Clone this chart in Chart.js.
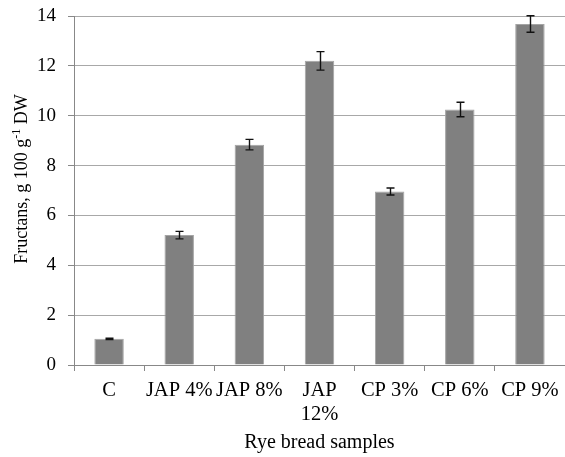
<!DOCTYPE html>
<html>
<head>
<meta charset="utf-8">
<script src="https://cdn.jsdelivr.net/npm/chart.js@4/dist/chart.umd.min.js"></script>
<style>
  html, body { margin: 0; padding: 0; background: #fff; }
  #wrap { width: 565px; height: 457px; }
</style>
</head>
<body>
<div id="wrap"><canvas id="c" width="565" height="457"></canvas></div>
<script>
// Fructan content of rye breads (mean and standard deviation)
const categories = ['C', 'JAP 4%', 'JAP 8%', ['JAP', '12%'], 'CP 3%', 'CP 6%', 'CP 9%'];
const fructans = [1.05, 5.21, 8.84, 12.2, 6.96, 10.25, 13.68];
const fructansSD = [0.03, 0.15, 0.21, 0.37, 0.14, 0.29, 0.33];
const yTicks = [0, 2, 4, 6, 8, 10, 12, 14];

const serif = "'Liberation Serif', 'Times New Roman', serif";

// Vertical error bars with caps, one per bar
const errorBars = {
  id: 'errorBars',
  afterDatasetsDraw(chart) {
    const meta = chart.getDatasetMeta(0);
    const y = chart.scales.y;
    const ctx = chart.ctx;
    ctx.save();
    ctx.strokeStyle = '#111';
    ctx.lineWidth = 1.4;
    meta.data.forEach((bar, i) => {
      const v = fructans[i], e = fructansSD[i];
      const x = Math.round(bar.x) + 0.5;
      const yTop = y.getPixelForValue(v + e);
      const yBot = y.getPixelForValue(v - e);
      ctx.beginPath();
      ctx.moveTo(x, yTop); ctx.lineTo(x, yBot);
      ctx.moveTo(x - 4, yTop); ctx.lineTo(x + 4, yTop);
      ctx.moveTo(x - 4, yBot); ctx.lineTo(x + 4, yBot);
      ctx.stroke();
    });
    ctx.restore();
  }
};

// Axis titles; the y title carries a superscript exponent
const axisTitles = {
  id: 'axisTitles',
  afterDraw(chart) {
    const ctx = chart.ctx;
    const area = chart.chartArea;
    ctx.save();
    ctx.fillStyle = '#000';
    ctx.textBaseline = 'alphabetic';

    // x title
    ctx.font = '20px ' + serif;
    ctx.textAlign = 'center';
    ctx.fillText('Rye bread samples', (area.left + area.right) / 2, 448);

    // y title, rotated
    const parts = [
      { t: 'Fructans, g 100 g', size: 18, rise: 0 },
      { t: '-1', size: 12, rise: 7 },
      { t: ' DW', size: 18, rise: 0 }
    ];
    let total = 0;
    parts.forEach(p => { ctx.font = p.size + 'px ' + serif; p.w = ctx.measureText(p.t).width; total += p.w; });
    ctx.translate(27, 179);
    ctx.rotate(-Math.PI / 2);
    ctx.textAlign = 'left';
    let cx = -total / 2;
    parts.forEach(p => {
      ctx.font = p.size + 'px ' + serif;
      ctx.fillText(p.t, cx, -p.rise);
      cx += p.w;
    });
    ctx.restore();
  }
};

new Chart(document.getElementById('c'), {
  type: 'bar',
  data: {
    labels: categories,
    datasets: [{
      data: fructans,
      backgroundColor: '#808080',
      borderColor: '#a4a4a4',
      borderWidth: 1,
      categoryPercentage: 1,
      barPercentage: 0.42
    }]
  },
  options: {
    responsive: false,
    animation: false,
    layout: { padding: { top: 16, right: 0, left: 0, bottom: 0 } },
    plugins: { legend: { display: false }, tooltip: { enabled: false } },
    scales: {
      x: {
        offset: true,
        grid: { display: true, offset: true, drawOnChartArea: false, drawTicks: true, tickLength: 6, color: '#888' },
        border: { display: true, color: '#888', width: 1 },
        ticks: {
          color: '#000',
          font: { family: serif, size: 20.5, lineHeight: 1.2 },
          padding: 7,
          maxRotation: 0,
          minRotation: 0,
          autoSkip: false
        },
        afterFit(scale) {
          scale.height = 92;
          scale.paddingLeft = 0;
          scale.paddingRight = 0;
        }
      },
      y: {
        min: 0,
        max: 14,
        afterBuildTicks(scale) { scale.ticks = yTicks.map(v => ({ value: v })); },
        grid: { color: '#a8a8a8', drawTicks: true, tickLength: 6, tickColor: '#888' },
        border: { display: true, color: '#888', width: 1 },
        ticks: {
          color: '#000',
          font: { family: serif, size: 19 },
          padding: 12
        },
        afterFit(scale) {
          scale.width = 74;
          scale.paddingTop = 0;
          scale.paddingBottom = 0;
        }
      }
    }
  },
  plugins: [errorBars, axisTitles]
});
</script>
</body>
</html>
